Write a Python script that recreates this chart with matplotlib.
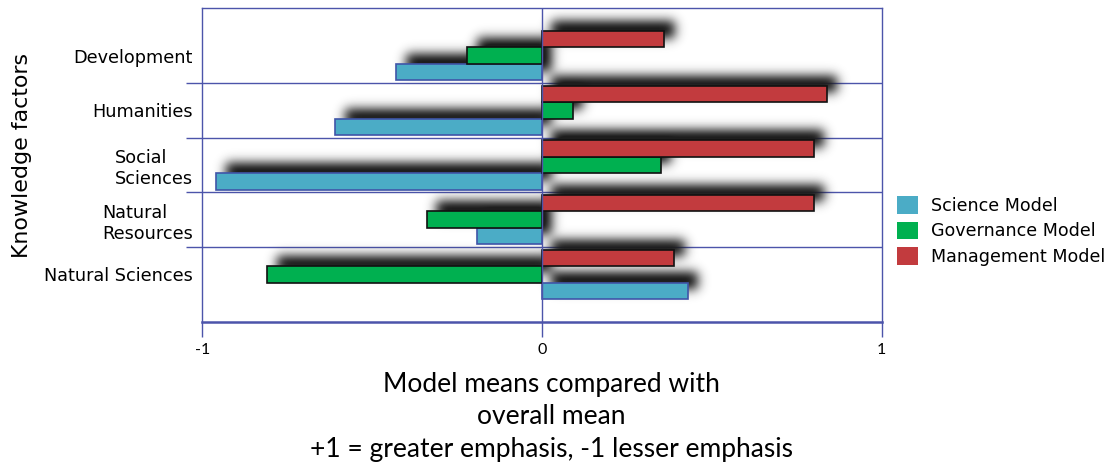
import numpy as np
import matplotlib
matplotlib.use("Agg")
import matplotlib.pyplot as plt
from matplotlib.patches import Patch

# --- data (bottom to top) ---
categories = ["Natural Sciences", "Natural\nResources", "Social\nSciences", "Humanities", "Development"]
science = [0.43, -0.19, -0.96, -0.61, -0.43]
governance = [-0.81, -0.34, 0.35, 0.09, -0.22]
management = [0.39, 0.80, 0.80, 0.84, 0.36]
series_names = ["Science Model", "Governance Model", "Management Model"]
xlabel_lines = ["Model means compared with", "overall mean", "+1 = greater emphasis, -1 lesser emphasis"]

colors = {"Science Model": "#4bacc6", "Governance Model": "#00b050", "Management Model": "#c23b3e"}
edges = {"Science Model": "#3f55a8", "Governance Model": "#111111", "Management Model": "#111111"}
line_col = "#4c54aa"

W, H, DPI = 1112, 463, 100
fig = plt.figure(figsize=(W / DPI, H / DPI), dpi=DPI)
ax_l, ax_r, ax_t, ax_b = 202.3, 881.7, 8, 322
ax = fig.add_axes([ax_l / W, 1 - ax_b / H, (ax_r - ax_l) / W, (ax_b - ax_t) / H])

xlim = (-1, 1)
ylim = (-0.87, 4.87)
y = np.arange(len(categories))
bar_h = 0.3
offsets = {"Science Model": -0.3, "Governance Model": 0.0, "Management Model": 0.3}
values = {"Science Model": science, "Governance Model": governance, "Management Model": management}

# --- blurred drop shadows (offset up-right), rendered at pixel resolution ---
npx_w = int(round(ax_r - ax_l))
npx_h = int(round(ax_b - ax_t))
xs = np.linspace(xlim[0], xlim[1], npx_w)
ys = np.linspace(ylim[1], ylim[0], npx_h)
px_x = (xlim[1] - xlim[0]) / npx_w
px_y = (ylim[1] - ylim[0]) / npx_h
dx, dy = 10 * px_x, 10 * px_y
mask = np.zeros((npx_h, npx_w))
for name in series_names:
    for yi, v in zip(y, values[name]):
        x0, x1 = min(0, v) + dx, max(0, v) + dx
        y0 = yi + offsets[name] - bar_h / 2 + dy
        y1 = yi + offsets[name] + bar_h / 2 + dy
        mx = (xs >= x0) & (xs <= x1)
        my = (ys >= y0) & (ys <= y1)
        mask[np.ix_(my, mx)] = 1.0

sig = 5.5
k = np.arange(-20, 21)
kern = np.exp(-k ** 2 / (2 * sig ** 2))
kern /= kern.sum()
mask = np.apply_along_axis(lambda r: np.convolve(r, kern, mode="same"), 1, mask)
mask = np.apply_along_axis(lambda c: np.convolve(c, kern, mode="same"), 0, mask)
rgba = np.zeros((npx_h, npx_w, 4))
rgba[..., :3] = 0.12
rgba[..., 3] = np.clip(mask * 1.15, 0, 1)
ax.imshow(rgba, extent=(xlim[0], xlim[1], ylim[0], ylim[1]), aspect="auto",
          interpolation="bilinear", zorder=2)

# --- bars ---
for name in series_names:
    ax.barh(y + offsets[name], values[name], height=bar_h, color=colors[name],
            edgecolor=edges[name], linewidth=1.2, zorder=3)

# --- frame, separators, zero line ---
for yy in np.arange(0.5, len(categories) - 0.5, 1):
    ax.axhline(yy, color=line_col, lw=1.0, zorder=1.5)
ax.axvline(0, color=line_col, lw=1.0, zorder=4)
for s in ["left", "right", "top"]:
    ax.spines[s].set_color(line_col)
    ax.spines[s].set_linewidth(1.0)
ax.spines["bottom"].set_color(line_col)
ax.spines["bottom"].set_linewidth(1.8)

ax.set_xlim(*xlim)
ax.set_ylim(*ylim)
ax.set_xticks([-1, 0, 1])
ax.set_xticklabels(["-1", "0", "1"], family="Lato", fontsize=11.5)
ax.tick_params(axis="x", direction="out", length=10.8, width=1.0, color=line_col, pad=4)
ax.set_yticks(y)
ax.set_yticklabels(categories, fontsize=12.7, family="DejaVu Sans", ma="left")
ax.tick_params(axis="y", which="major", length=0, pad=7)
ax.set_yticks(np.arange(0.5, len(categories) - 0.5, 1), minor=True)
ax.tick_params(axis="y", which="minor", direction="out", length=11.5, width=1.0, color=line_col)

# --- axis titles ---
fig.text(22 / W, 1 - 156 / H, "Knowledge factors", rotation=90, ha="center", va="center",
         fontsize=15.9, family="DejaVu Sans")
for line, base in zip(xlabel_lines, [391.7, 424.2, 456.7]):
    fig.text(551 / W, 1 - base / H, line, ha="center", va="baseline", fontsize=19, family="Lato")

# --- legend ---
handles = [Patch(facecolor=colors[n], edgecolor="none") for n in series_names]
fig.legend(handles, series_names, loc="upper left", bbox_to_anchor=(897 / W, 1 - 196 / H),
           frameon=False, borderpad=0, borderaxespad=0,
           handlelength=1.2, handleheight=1.2, handletextpad=0.75, labelspacing=0.38,
           prop={"family": "DejaVu Sans", "size": 12.6})

fig.savefig("out.png", dpi=DPI)
